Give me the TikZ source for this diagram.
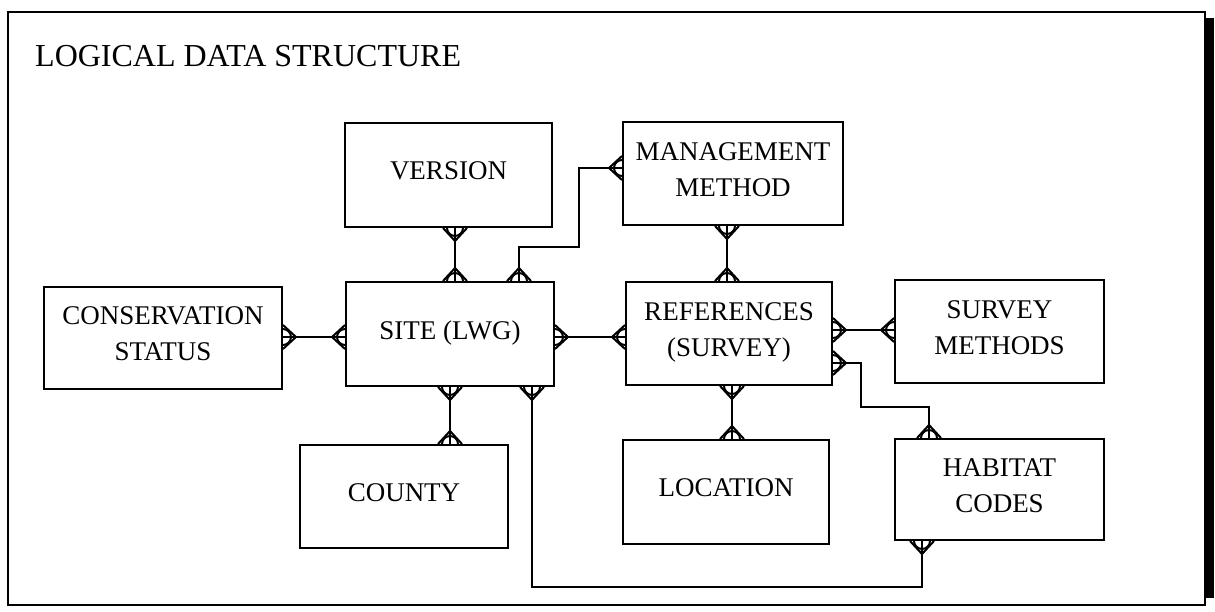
\documentclass[tikz,border=0pt]{standalone}
\usepackage{fontspec}
\setmainfont{Liberation Serif}
\tikzset{
  erbox/.style={draw, line width=2pt, inner sep=0pt, align=center,
    text depth=8pt, font=\fontsize{27}{36}\selectfont},
  conn/.style={line width=2pt},
  titletext/.style={font=\fontsize{32}{38}\selectfont, inner sep=0pt}
}
\newcommand\erend[2]{%
  \begin{scope}[shift={(#1)}, rotate=#2, x=1pt, y=1pt, line width=2pt]
    \draw (0,-12) -- (13,0) -- (0,12);
    \draw (0,-8) arc[start angle=-90, end angle=90, radius=8];
  \end{scope}}
\begin{document}
\begin{tikzpicture}[x=1pt,y=-1pt]
\useasboundingbox (0,0) rectangle (1215,612);
% frame
\draw[line width=1.8pt] (8,12) rectangle (1205,605);
\fill (1206,18) rectangle (1214,598);
\node[titletext, anchor=base west] (title) at (35,67) {LOGICAL DATA STRUCTURE};

% entities
\node[erbox, minimum width=207, minimum height=104] (version)  at (448.5,175)  {VERSION};
\node[erbox, minimum width=220, minimum height=103] (mgmt)     at (733,173.5)  {MANAGEMENT\\METHOD};
\node[erbox, minimum width=238, minimum height=102] (cons)     at (163,338)    {CONSERVATION\\STATUS};
\node[erbox, minimum width=208, minimum height=104] (site)     at (450,334)    {SITE (LWG)};
\node[erbox, minimum width=206, minimum height=103] (ref)      at (729,333.5)  {REFERENCES\\(SURVEY)};
\node[erbox, minimum width=209, minimum height=103] (survey)   at (999.5,331.5){SURVEY\\METHODS};
\node[erbox, minimum width=208, minimum height=103] (county)   at (404,496.5)  {COUNTY};
\node[erbox, minimum width=206, minimum height=104] (location) at (726,492)    {LOCATION};
\node[erbox, minimum width=209, minimum height=101] (habitat)  at (999.5,489.5){HABITAT\\CODES};

% helper coordinates
\coordinate (c455) at (455,0);
\coordinate (c450) at (450,0);
\coordinate (c727) at (727,0);
\coordinate (c732) at (732,0);
\coordinate (r337) at (0,337);
\coordinate (r330) at (0,330);
\coordinate (k1) at (519,247);
\coordinate (k2) at (579,168);
\coordinate (k3) at (861,363);
\coordinate (k4) at (929,407);
\coordinate (k5) at (532,587);
\coordinate (k6) at (922,587);

% connectors
\draw[conn] (version.south -| c455) -- (site.north -| c455);
\erend{version.south -| c455}{270}
\erend{site.north -| c455}{90}

\draw[conn] (site.north -| k1) -- (k1) -| (k2) -- (mgmt.west |- k2);
\erend{site.north -| k1}{90}
\erend{mgmt.west |- k2}{180}

\draw[conn] (mgmt.south -| c727) -- (ref.north -| c727);
\erend{mgmt.south -| c727}{270}
\erend{ref.north -| c727}{90}

\draw[conn] (cons.east |- r337) -- (site.west |- r337);
\erend{cons.east |- r337}{0}
\erend{site.west |- r337}{180}

\draw[conn] (site.east |- r337) -- (ref.west |- r337);
\erend{site.east |- r337}{0}
\erend{ref.west |- r337}{180}

\draw[conn] (ref.east |- r330) -- (survey.west |- r330);
\erend{ref.east |- r330}{0}
\erend{survey.west |- r330}{180}

\draw[conn] (ref.east |- k3) -- (k3) |- (k4) -- (habitat.north -| k4);
\erend{ref.east |- k3}{0}
\erend{habitat.north -| k4}{90}

\draw[conn] (site.south -| c450) -- (county.north -| c450);
\erend{site.south -| c450}{270}
\erend{county.north -| c450}{90}

\draw[conn] (ref.south -| c732) -- (location.north -| c732);
\erend{ref.south -| c732}{270}
\erend{location.north -| c732}{90}

\draw[conn] (site.south -| k5) -- (k5) -- (k6) -- (habitat.south -| k6);
\erend{site.south -| k5}{270}
\erend{habitat.south -| k6}{270}
\end{tikzpicture}
\end{document}
